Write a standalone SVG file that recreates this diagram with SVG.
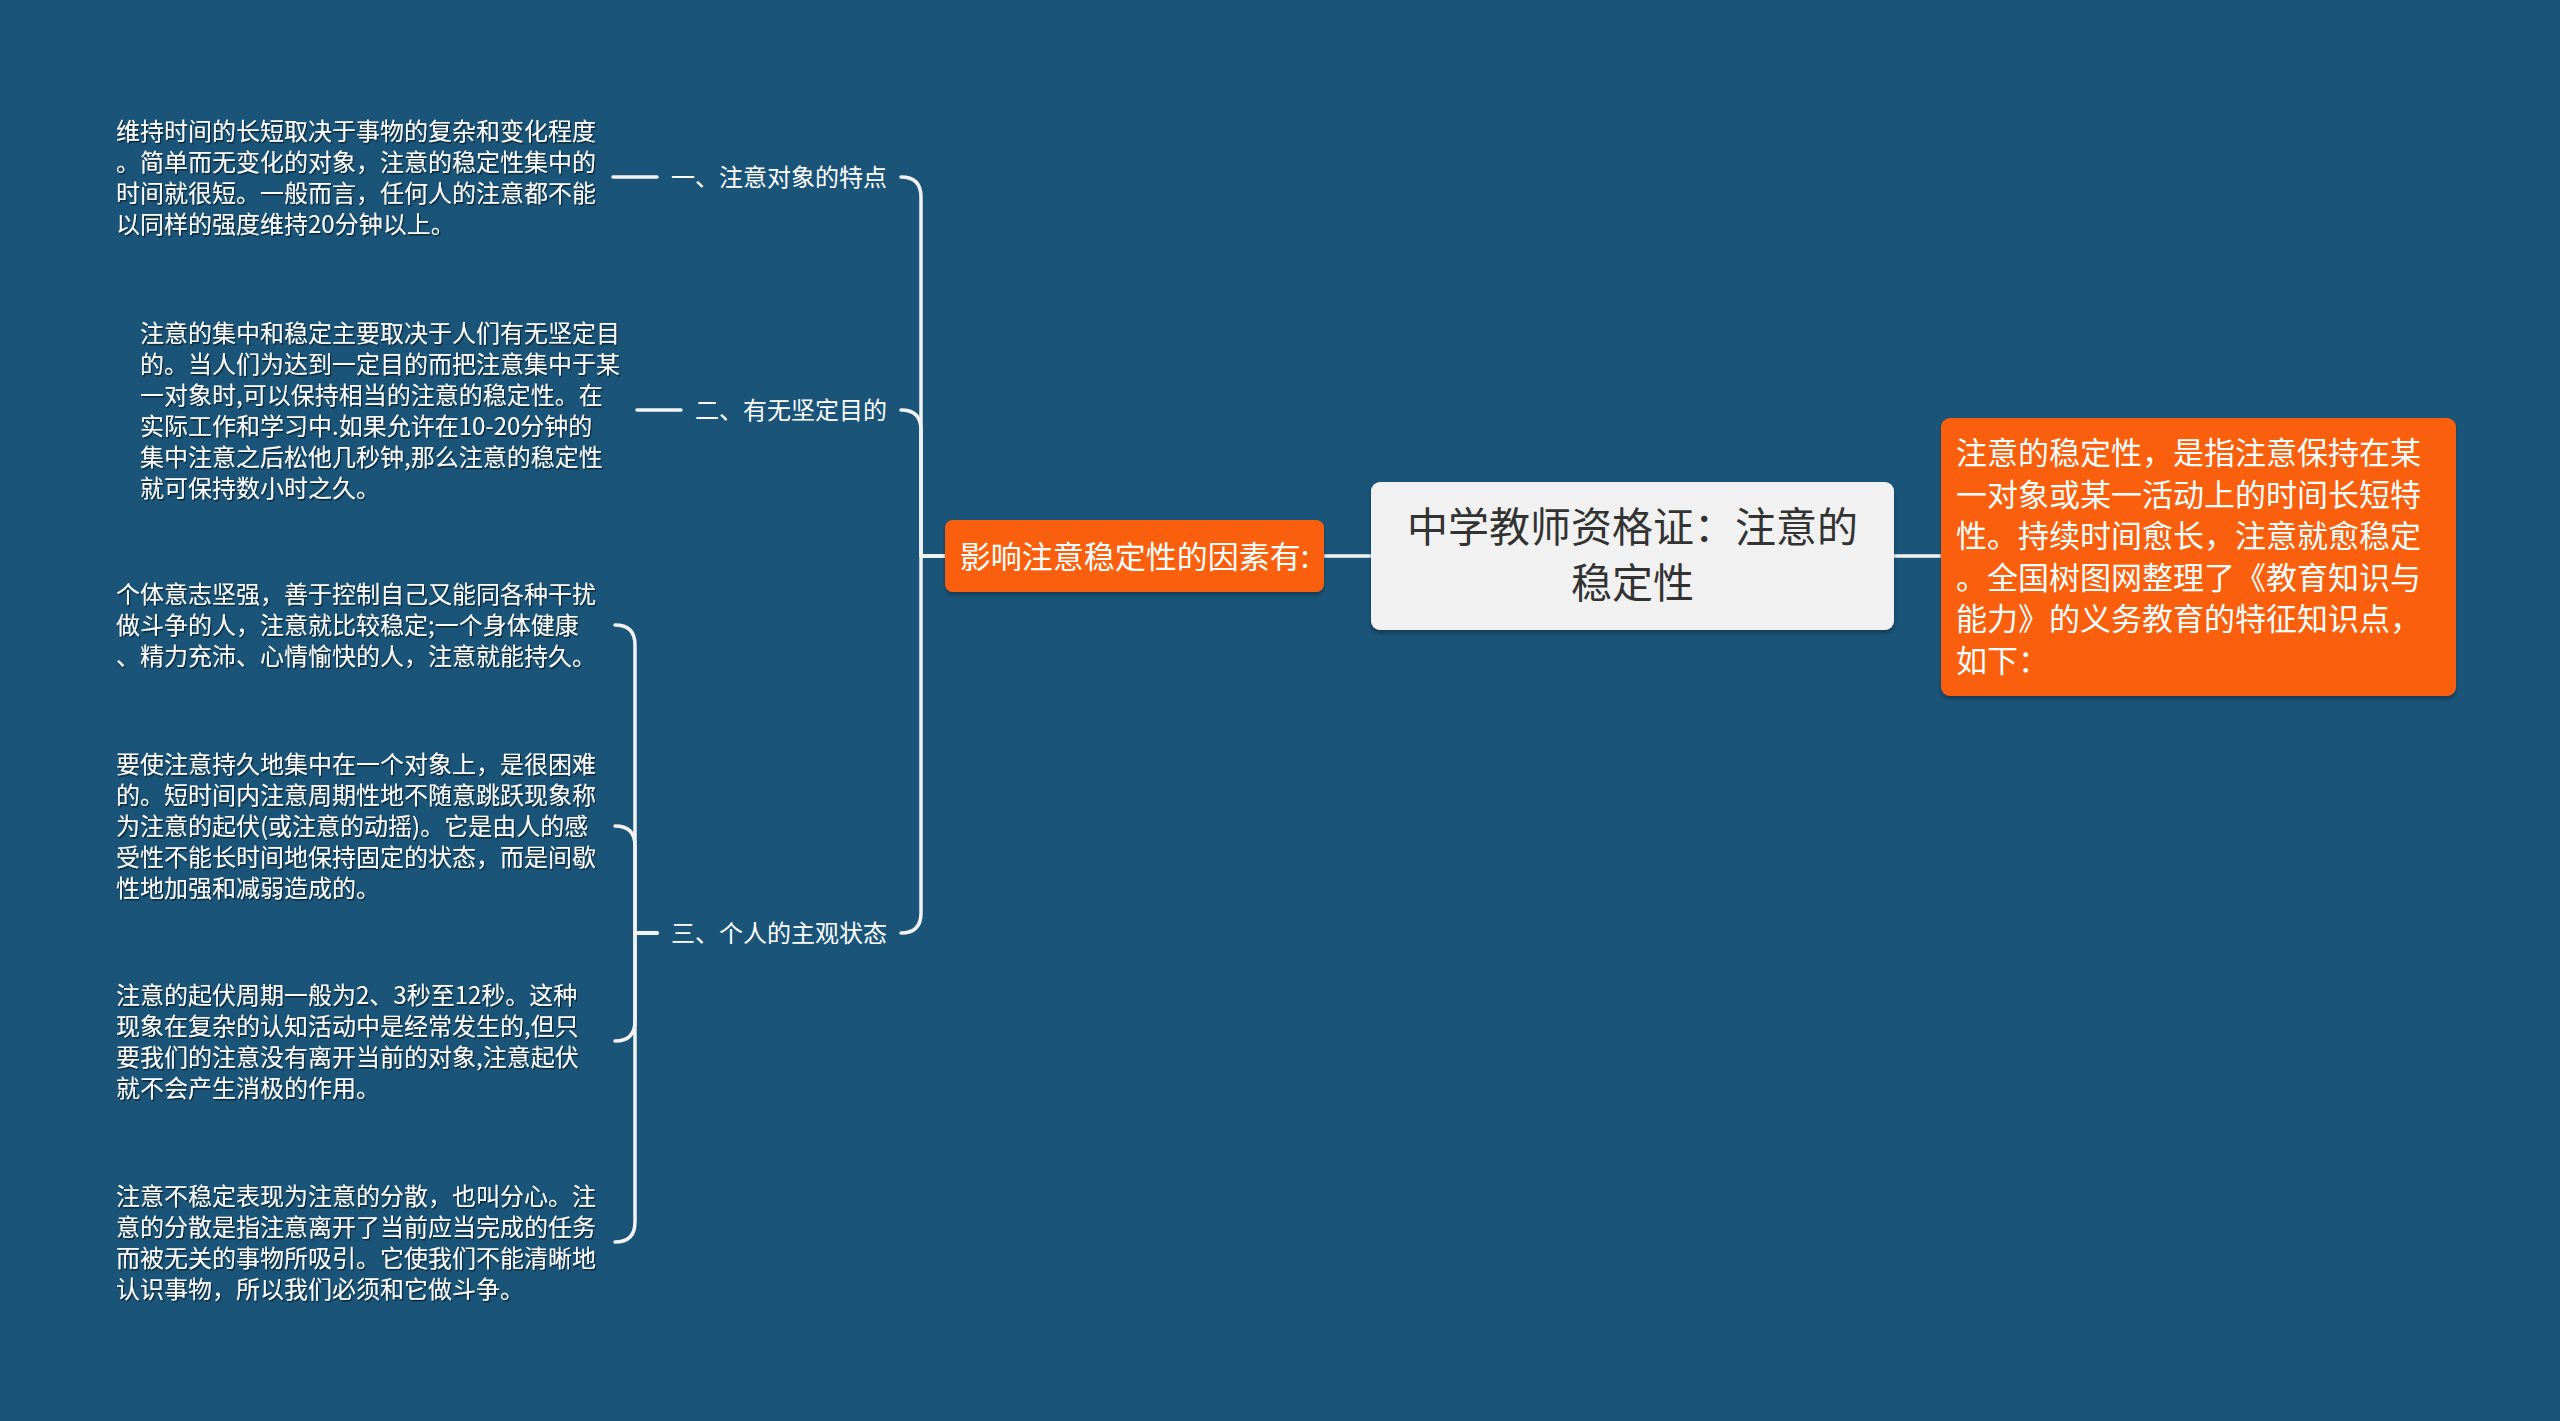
<svg xmlns="http://www.w3.org/2000/svg" width="2560" height="1421" viewBox="0 0 2560 1421">
<defs>
<filter id="ts" x="-5%" y="-5%" width="110%" height="110%">
<feDropShadow dx="1.2" dy="1.5" stdDeviation="0.6" flood-color="#000" flood-opacity="0.55"/>
</filter>
<filter id="bs" x="-5%" y="-10%" width="110%" height="125%">
<feDropShadow dx="0" dy="3" stdDeviation="1.5" flood-color="#0b2a40" flood-opacity="0.6"/>
</filter>
<style>
.t{font-family:"Noto Sans CJK SC","Noto Sans",sans-serif;dominant-baseline:central;transform:translateY(-2px)}
.leaf{font-size:24px;fill:#ffffff;filter:url(#ts)}
.lab{font-size:24px;fill:#ffffff;text-anchor:end}
.c{fill:none;stroke:#f2f2f2;stroke-width:3.5;stroke-linecap:round;stroke-linejoin:round}
</style>
</defs>
<rect x="0" y="0" width="2560" height="1421" fill="#1a5478"/>
<g id="connectors">
<path class="c" d="M1371 556 H1324"/>
<path class="c" d="M1894 556 H1941"/>
<path class="c" d="M945 556 H921 V197 Q921 177 901 177"/>
<path class="c" d="M945 556 H921 V430 Q921 410 901 410"/>
<path class="c" d="M945 556 H921 V913 Q921 933 901 933"/>
<path class="c" d="M657 177 H613"/>
<path class="c" d="M681 410 H637"/>
<path class="c" d="M657 933 H635 V645 Q635 625 615 625"/>
<path class="c" d="M657 933 H635 V846 Q635 826 615 826"/>
<path class="c" d="M657 933 H635 V1021 Q635 1041 615 1041"/>
<path class="c" d="M657 933 H635 V1222 Q635 1242 615 1242"/>
</g>
<g id="root">
<rect x="1371" y="482" width="523" height="148" rx="9" fill="#f1f1f1" filter="url(#bs)"/>
<text class="t" x="1632.5" y="526" font-size="41" fill="#333333" text-anchor="middle">中学教师资格证：注意的</text>
<text class="t" x="1632.5" y="582" font-size="41" fill="#333333" text-anchor="middle">稳定性</text>
</g>
<g id="intro">
<rect x="1941" y="418" width="515" height="278" rx="9" fill="#fa5f0a" filter="url(#bs)"/>
<text class="t" font-size="31" fill="#ffffff">
<tspan x="1956" y="452">注意的稳定性，是指注意保持在某</tspan>
<tspan x="1956" y="493.5">一对象或某一活动上的时间长短特</tspan>
<tspan x="1956" y="535">性。持续时间愈长，注意就愈稳定</tspan>
<tspan x="1956" y="576.5">。全国树图网整理了《教育知识与</tspan>
<tspan x="1956" y="618">能力》的义务教育的特征知识点，</tspan>
<tspan x="1956" y="659.5">如下：</tspan>
</text>
</g>
<g id="factors">
<rect x="945" y="520" width="379" height="72" rx="8" fill="#fa5f0a" filter="url(#bs)"/>
<text class="t" x="1134.5" y="556" font-size="31" fill="#ffffff" text-anchor="middle">影响注意稳定性的因素有:</text>
</g>
<g id="f1">
<text class="t lab" x="887" y="177">一、注意对象的特点</text>
</g>
<g id="f2">
<text class="t lab" x="887" y="410">二、有无坚定目的</text>
</g>
<g id="f3">
<text class="t lab" x="887" y="933">三、个人的主观状态</text>
</g>
<g id="leaf1">
<text class="t leaf">
<tspan x="116" y="130.5">维持时间的长短取决于事物的复杂和变化程度</tspan>
<tspan x="116" y="161.5">。简单而无变化的对象，注意的稳定性集中的</tspan>
<tspan x="116" y="192.5">时间就很短。一般而言，任何人的注意都不能</tspan>
<tspan x="116" y="223.5">以同样的强度维持20分钟以上。</tspan>
</text>
</g>
<g id="leaf2">
<text class="t leaf">
<tspan x="140" y="332.5">注意的集中和稳定主要取决于人们有无坚定目</tspan>
<tspan x="140" y="363.5">的。当人们为达到一定目的而把注意集中于某</tspan>
<tspan x="140" y="394.5">一对象时,可以保持相当的注意的稳定性。在</tspan>
<tspan x="140" y="425.5">实际工作和学习中.如果允许在10-20分钟的</tspan>
<tspan x="140" y="456.5">集中注意之后松他几秒钟,那么注意的稳定性</tspan>
<tspan x="140" y="487.5">就可保持数小时之久。</tspan>
</text>
</g>
<g id="leaf3">
<text class="t leaf">
<tspan x="116" y="594">个体意志坚强，善于控制自己又能同各种干扰</tspan>
<tspan x="116" y="625">做斗争的人，注意就比较稳定;一个身体健康</tspan>
<tspan x="116" y="656">、精力充沛、心情愉快的人，注意就能持久。</tspan>
</text>
</g>
<g id="leaf4">
<text class="t leaf">
<tspan x="116" y="764">要使注意持久地集中在一个对象上，是很困难</tspan>
<tspan x="116" y="795">的。短时间内注意周期性地不随意跳跃现象称</tspan>
<tspan x="116" y="826">为注意的起伏(或注意的动摇)。它是由人的感</tspan>
<tspan x="116" y="857">受性不能长时间地保持固定的状态，而是间歇</tspan>
<tspan x="116" y="888">性地加强和减弱造成的。</tspan>
</text>
</g>
<g id="leaf5">
<text class="t leaf">
<tspan x="116" y="994.5">注意的起伏周期一般为2、3秒至12秒。这种</tspan>
<tspan x="116" y="1025.5">现象在复杂的认知活动中是经常发生的,但只</tspan>
<tspan x="116" y="1056.5">要我们的注意没有离开当前的对象,注意起伏</tspan>
<tspan x="116" y="1087.5">就不会产生消极的作用。</tspan>
</text>
</g>
<g id="leaf6">
<text class="t leaf">
<tspan x="116" y="1195.5">注意不稳定表现为注意的分散，也叫分心。注</tspan>
<tspan x="116" y="1226.5">意的分散是指注意离开了当前应当完成的任务</tspan>
<tspan x="116" y="1257.5">而被无关的事物所吸引。它使我们不能清晰地</tspan>
<tspan x="116" y="1288.5">认识事物，所以我们必须和它做斗争。</tspan>
</text>
</g>
</svg>
